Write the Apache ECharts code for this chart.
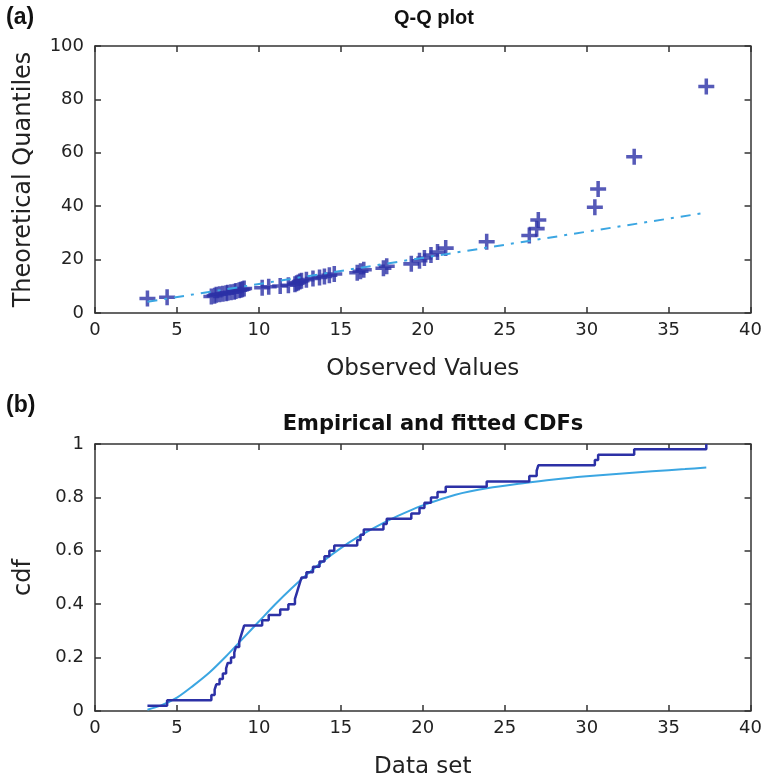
<!DOCTYPE html>
<html>
<head>
<meta charset="utf-8">
<script src="https://cdn.jsdelivr.net/npm/echarts@6/dist/echarts.min.js"></script>
<style>html,body{margin:0;padding:0;background:#fff}#c{width:765px;height:780px}</style>
</head>
<body>
<div id="c"></div>
<script>
// Observed values (sorted) and their theoretical quantiles
var observed = [3.2, 4.4,
  7.1, 7.3, 7.4, 7.6, 7.8, 8.0, 8.1, 8.3, 8.5, 8.6, 8.8, 8.9, 9.0, 9.1,
  10.2, 10.6, 11.3, 11.8,
  12.2, 12.3, 12.4, 12.5, 12.6,
  12.9, 13.3, 13.7, 14.0, 14.3, 14.6,
  16.0, 16.2, 16.4,
  17.6, 17.8,
  19.3, 19.8, 20.1, 20.5, 20.9, 21.4,
  23.9,
  26.5, 26.95, 27.05,
  30.5, 30.7, 32.9, 37.3];
var theoretical = [5.4, 5.9,
  6.2, 6.5, 6.8, 7.0, 7.2, 7.4, 7.6, 7.8, 8.0, 8.2, 8.5, 8.7, 8.9, 9.2,
  9.5, 9.8, 10.1, 10.4,
  10.8, 11.1, 11.4, 11.8, 12.1,
  12.5, 12.9, 13.3, 13.7, 14.1, 14.6,
  15.1, 15.6, 16.2,
  16.8, 17.5,
  18.4, 19.6, 20.6, 21.7, 22.8, 24.3,
  26.7,
  29.0, 31.6, 34.8,
  39.6, 46.4, 58.5, 84.8];
// Reference line end points
var refLineX = [3.2, 37.3];
var refLineY = [4.2, 37.6];
// Fitted CDF read at these x values
var fitX = [3.2, 4, 5, 6, 7, 8, 9, 10, 11, 12, 13, 14, 15, 16, 17, 18, 19, 20, 22, 24, 26, 28, 30, 32, 34, 36, 37.3];
var fitCdf = [0.005, 0.02, 0.05, 0.095, 0.145, 0.205, 0.27, 0.335, 0.40, 0.46, 0.515, 0.565, 0.61, 0.65, 0.685, 0.717, 0.745, 0.77, 0.81, 0.835, 0.852, 0.867, 0.879, 0.889, 0.898, 0.906, 0.912];
// Axis ticks
var xTicks = {min: 0, max: 40, interval: 5};
var yTicksQQ = {min: 0, max: 100, interval: 20};
var yTicksCdf = {min: 0, max: 1, interval: 0.2};

var dark = '#2c31a6', light = '#3ba6e2', axisCol = '#333';
var qqData = observed.map(function (v, i) { return [v, theoretical[i]]; });
var refData = refLineX.map(function (v, i) { return [v, refLineY[i]]; });
var n = observed.length;
var ecdfData = observed.map(function (v, i) { return [v, (i + 1) / n]; });
var fitData = fitX.map(function (v, i) { return [v, fitCdf[i]]; });

var lblFont = {fontFamily: 'DejaVu Sans', fontSize: 18, color: '#222'};
var nameFont = {fontFamily: 'DejaVu Sans', fontSize: 23, color: '#222'};
function xa(grid, pos, showLabel, name) {
  return {type: 'value', gridIndex: grid, position: pos, min: xTicks.min, max: xTicks.max, interval: xTicks.interval,
    axisLine: {show: true, onZero: false, lineStyle: {color: axisCol, width: 1.5}},
    axisTick: {show: true, inside: true, length: 6, lineStyle: {color: axisCol, width: 1.5}},
    axisLabel: Object.assign({show: showLabel, margin: 8}, lblFont),
    splitLine: {show: false},
    name: name || '', nameLocation: 'middle', nameGap: 45,
    nameTextStyle: nameFont};
}
function ya(grid, pos, showLabel, t, name, gap) {
  return {type: 'value', gridIndex: grid, position: pos, min: t.min, max: t.max, interval: t.interval,
    axisLine: {show: true, onZero: false, lineStyle: {color: axisCol, width: 1.5}},
    axisTick: {show: true, inside: true, length: 6, lineStyle: {color: axisCol, width: 1.5}},
    axisLabel: Object.assign({show: showLabel, margin: 11}, lblFont),
    splitLine: {show: false},
    name: name || '', nameLocation: 'middle', nameGap: gap || 60,
    nameTextStyle: {fontFamily: 'DejaVu Sans', fontSize: 24, color: '#222'}};
}
var plus = 'path://M3.9,0H6.1V3.9H10V6.1H6.1V10H3.9V6.1H0V3.9H3.9Z';
var chart = echarts.init(document.getElementById('c'), null, {renderer: 'canvas'});
chart.setOption({
  backgroundColor: '#fff',
  animation: false,
  title: [
    {text: '(a)', left: 1, top: 1, textStyle: {fontFamily: 'Liberation Sans', fontWeight: 'bold', fontSize: 23, color: '#111'}},
    {text: 'Q-Q plot', left: 429, top: 3, textAlign: 'center', textStyle: {fontFamily: 'Liberation Sans', fontWeight: 'bold', fontSize: 20, color: '#111'}},
    {text: '(b)', left: 1, top: 389, textStyle: {fontFamily: 'Liberation Sans', fontWeight: 'bold', fontSize: 23, color: '#111'}},
    {text: 'Empirical and fitted CDFs', left: 428, top: 409, textAlign: 'center', textStyle: {fontFamily: 'DejaVu Sans', fontWeight: 'bold', fontSize: 21, color: '#111'}}
  ],
  grid: [
    {left: 95, top: 46, width: 667, height: 267},
    {left: 95, top: 444, width: 667, height: 267}
  ],
  xAxis: [xa(0, 'bottom', true, 'Observed Values'), xa(0, 'top', false), xa(1, 'bottom', true, 'Data set'), xa(1, 'top', false)],
  yAxis: [ya(0, 'left', true, yTicksQQ, 'Theoretical Quantiles', 59), ya(0, 'right', false, yTicksQQ),
          ya(1, 'left', true, yTicksCdf, 'cdf', 59), ya(1, 'right', false, yTicksCdf)],
  series: [
    {type: 'line', xAxisIndex: 0, yAxisIndex: 0, data: refData, symbol: 'none',
      lineStyle: {color: light, width: 2, type: [10, 7, 3, 7]}},
    {type: 'scatter', xAxisIndex: 0, yAxisIndex: 0, data: qqData, symbol: plus, symbolSize: 16,
      itemStyle: {color: dark}},
    {type: 'line', xAxisIndex: 2, yAxisIndex: 2, data: fitData, symbol: 'none', smooth: 0.3,
      lineStyle: {color: light, width: 2}},
    {type: 'line', xAxisIndex: 2, yAxisIndex: 2, data: ecdfData, symbol: 'none', step: 'end',
      lineStyle: {color: dark, width: 2.5}}
  ]
});
</script>
</body>
</html>
